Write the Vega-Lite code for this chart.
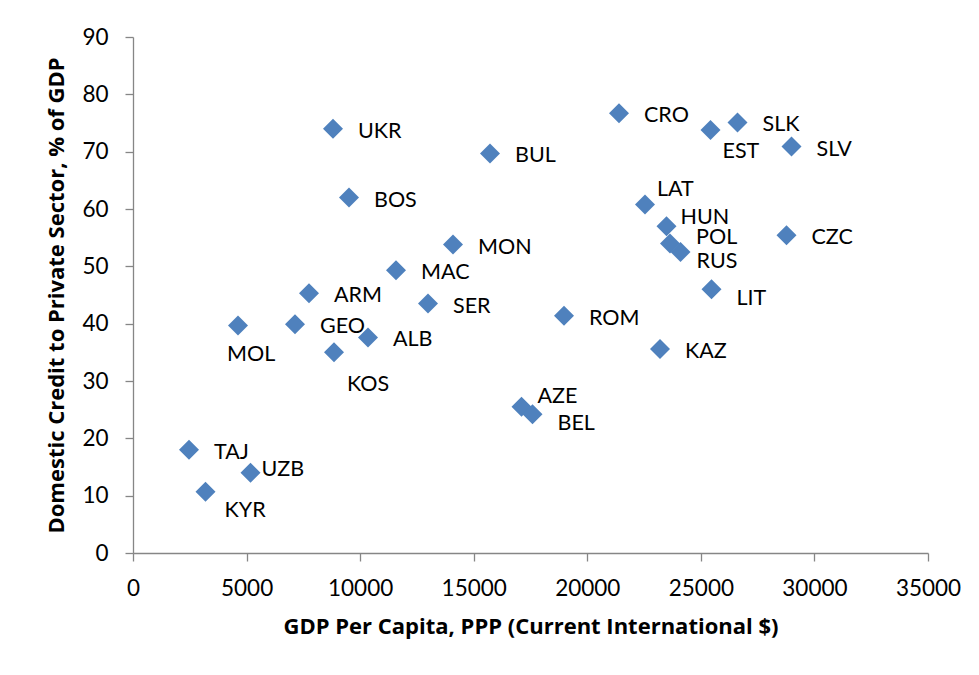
{
  "$schema": "https://vega.github.io/schema/vega-lite/v6.json",
  "autosize": {"type": "none"},
  "width": 795,
  "height": 516,
  "padding": {"left": 133, "top": 37, "right": 51, "bottom": 122},
  "background": "white",
  "config": {
    "view": {"stroke": null},
    "font": "Lato",
    "axis": {
      "grid": false,
      "domainColor": "#868686",
      "tickColor": "#868686",
      "domainWidth": 1.3,
      "tickWidth": 1.3,
      "tickSize": 8,
      "labelFont": "Lato",
      "labelFontSize": 22.5,
      "labelColor": "#000000",
      "labelFlush": false,
      "labelOverlap": false,
      "titleFont": "Open Sans",
      "titleFontSize": 22,
      "titleFontWeight": "bold",
      "titleColor": "#000000"
    }
  },
  "data": {
    "values": [
      {"country": "UKR", "gdp": 8805, "credit": 74.0},
      {"country": "BUL", "gdp": 15717, "credit": 69.7},
      {"country": "CRO", "gdp": 21396, "credit": 76.7},
      {"country": "EST", "gdp": 25425, "credit": 73.8},
      {"country": "SLK", "gdp": 26613, "credit": 75.1},
      {"country": "SLV", "gdp": 28991, "credit": 70.9},
      {"country": "BOS", "gdp": 9510, "credit": 62.0},
      {"country": "LAT", "gdp": 22541, "credit": 60.8},
      {"country": "HUN", "gdp": 23487, "credit": 57.0},
      {"country": "POL", "gdp": 23642, "credit": 54.0},
      {"country": "RUS", "gdp": 24104, "credit": 52.5},
      {"country": "CZC", "gdp": 28771, "credit": 55.4},
      {"country": "MON", "gdp": 14088, "credit": 53.8},
      {"country": "MAC", "gdp": 11579, "credit": 49.3},
      {"country": "ARM", "gdp": 7749, "credit": 45.3},
      {"country": "SER", "gdp": 12988, "credit": 43.5},
      {"country": "LIT", "gdp": 25469, "credit": 46.0},
      {"country": "ROM", "gdp": 18975, "credit": 41.4},
      {"country": "MOL", "gdp": 4623, "credit": 39.7},
      {"country": "GEO", "gdp": 7132, "credit": 39.9},
      {"country": "ALB", "gdp": 10346, "credit": 37.6},
      {"country": "KOS", "gdp": 8849, "credit": 35.0},
      {"country": "KAZ", "gdp": 23202, "credit": 35.6},
      {"country": "AZE", "gdp": 17104, "credit": 25.5},
      {"country": "BEL", "gdp": 17588, "credit": 24.2},
      {"country": "TAJ", "gdp": 2465, "credit": 18.0},
      {"country": "UZB", "gdp": 5173, "credit": 14.0},
      {"country": "KYR", "gdp": 3192, "credit": 10.7}
    ]
  },
  "encoding": {
    "x": {
      "field": "gdp", "type": "quantitative",
      "scale": {"domain": [0, 35000], "nice": false},
      "axis": {"values": [0, 5000, 10000, 15000, 20000, 25000, 30000, 35000], "format": "d", "labelPadding": 16, "titlePadding": 17,
               "title": "GDP Per Capita, PPP (Current International $)"}
    },
    "y": {
      "field": "credit", "type": "quantitative",
      "scale": {"domain": [0, 90], "nice": false},
      "axis": {"values": [0, 10, 20, 30, 40, 50, 60, 70, 80, 90], "labelPadding": 17, "titlePadding": 13,
               "title": "Domestic Credit to Private Sector, % of GDP"}
    }
  },
  "layer": [
    {"mark": {"type": "point", "shape": "diamond", "filled": true, "size": 400, "color": "#4F81BD", "opacity": 1}},
    {"transform": [{"filter": {"field": "country", "oneOf": ["UKR","BUL","CRO","SLK","SLV","CZC","KAZ","TAJ","GEO","ALB","SER","MAC","MON","ARM","BOS","ROM"]}}],
     "mark": {"type": "text", "align": "left", "baseline": "middle", "dx": 25, "dy": 3, "fontSize": 21.5, "color": "#000000"},
     "encoding": {"text": {"field": "country"}}},
    {"transform": [{"filter": {"field": "country", "oneOf": ["LIT","BEL"]}}],
     "mark": {"type": "text", "align": "left", "baseline": "middle", "dx": 25, "dy": 10, "fontSize": 21.5, "color": "#000000"},
     "encoding": {"text": {"field": "country"}}},
    {"transform": [{"filter": {"field": "country", "equal": "RUS"}}],
     "mark": {"type": "text", "align": "left", "baseline": "middle", "dx": 16, "dy": 10, "fontSize": 21.5, "color": "#000000"},
     "encoding": {"text": {"field": "country"}}},
    {"transform": [{"filter": {"field": "country", "equal": "POL"}}],
     "mark": {"type": "text", "align": "left", "baseline": "middle", "dx": 26, "dy": -5, "fontSize": 21.5, "color": "#000000"},
     "encoding": {"text": {"field": "country"}}},
    {"transform": [{"filter": {"field": "country", "equal": "EST"}}],
     "mark": {"type": "text", "align": "left", "baseline": "middle", "dx": 12, "dy": 22, "fontSize": 21.5, "color": "#000000"},
     "encoding": {"text": {"field": "country"}}},
    {"transform": [{"filter": {"field": "country", "equal": "KYR"}}],
     "mark": {"type": "text", "align": "left", "baseline": "middle", "dx": 19, "dy": 19, "fontSize": 21.5, "color": "#000000"},
     "encoding": {"text": {"field": "country"}}},
    {"transform": [{"filter": {"field": "country", "equal": "KOS"}}],
     "mark": {"type": "text", "align": "left", "baseline": "middle", "dx": 13, "dy": 33, "fontSize": 21.5, "color": "#000000"},
     "encoding": {"text": {"field": "country"}}},
    {"transform": [{"filter": {"field": "country", "equal": "MOL"}}],
     "mark": {"type": "text", "align": "left", "baseline": "middle", "dx": -11, "dy": 30, "fontSize": 21.5, "color": "#000000"},
     "encoding": {"text": {"field": "country"}}},
    {"transform": [{"filter": {"field": "country", "equal": "LAT"}}],
     "mark": {"type": "text", "align": "left", "baseline": "middle", "dx": 12, "dy": -14, "fontSize": 21.5, "color": "#000000"},
     "encoding": {"text": {"field": "country"}}},
    {"transform": [{"filter": {"field": "country", "equal": "HUN"}}],
     "mark": {"type": "text", "align": "left", "baseline": "middle", "dx": 14, "dy": -8, "fontSize": 21.5, "color": "#000000"},
     "encoding": {"text": {"field": "country"}}},
    {"transform": [{"filter": {"field": "country", "equal": "AZE"}}],
     "mark": {"type": "text", "align": "left", "baseline": "middle", "dx": 16, "dy": -10, "fontSize": 21.5, "color": "#000000"},
     "encoding": {"text": {"field": "country"}}},
    {"transform": [{"filter": {"field": "country", "equal": "UZB"}}],
     "mark": {"type": "text", "align": "left", "baseline": "middle", "dx": 11, "dy": -3, "fontSize": 21.5, "color": "#000000"},
     "encoding": {"text": {"field": "country"}}}
  ]
}
